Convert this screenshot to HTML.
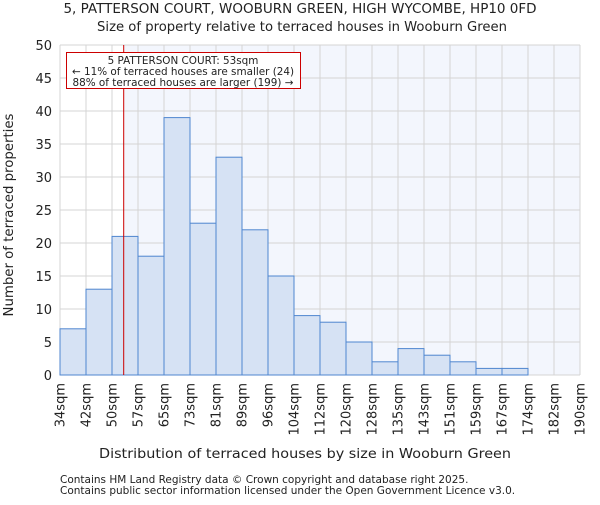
<!DOCTYPE html>
<html><head><meta charset="utf-8"><style>
body{margin:0;background:#fff}
svg text{font-family:"DejaVu Sans","Liberation Sans",sans-serif;fill:#222}
</style></head><body>
<svg id="chart" width="600" height="500" xmlns="http://www.w3.org/2000/svg">
<text x="300" y="13" text-anchor="middle" font-size="13.5">5, PATTERSON COURT, WOOBURN GREEN, HIGH WYCOMBE, HP10 0FD</text>
<text x="302" y="31" text-anchor="middle" font-size="13.2">Size of property relative to terraced houses in Wooburn Green</text>
<g id="plot"></g>
<text x="305" y="458" text-anchor="middle" font-size="13" textLength="412" lengthAdjust="spacingAndGlyphs">Distribution of terraced houses by size in Wooburn Green</text>
<text transform="translate(13,215) rotate(-90)" text-anchor="middle" font-size="13.3">Number of terraced properties</text>
<text x="60" y="483" font-size="10.5">Contains HM Land Registry data © Crown copyright and database right 2025.</text>
<text x="60" y="494" font-size="10.5">Contains public sector information licensed under the Open Government Licence v3.0.</text>
</svg>
<script>
const categories=["34sqm","42sqm","50sqm","57sqm","65sqm","73sqm","81sqm","89sqm","96sqm","104sqm","112sqm","120sqm","128sqm","135sqm","143sqm","151sqm","159sqm","167sqm","174sqm","182sqm","190sqm"];
const counts=[7,13,21,18,39,23,33,22,15,9,8,5,2,4,3,2,1,1,0,0];
const yTicks=[0,5,10,15,20,25,30,35,40,45,50];
const markerBin=2.45;
const NS="http://www.w3.org/2000/svg";
const L=60,R=580,T=45,B=375,yMax=50;
const bw=(R-L)/counts.length;
const x=i=>L+i*bw, y=v=>B-(v/yMax)*(B-T);
const g=document.getElementById('plot');
function mk(t,a){const e=document.createElementNS(NS,t);for(const k in a)e.setAttribute(k,a[k]);g.appendChild(e);return e;}
const mx=x(markerBin);
let e=mk('rect',{x:mx,y:T,width:R-mx,height:B-T,fill:'#f3f6fd'});


yTicks.forEach(v=>{const l=mk('line',{x1:L,x2:R,y1:y(v),y2:y(v),stroke:'#d4d4d4','stroke-width':1});


const t=mk('text',{x:L-8,y:y(v)+5,'text-anchor':'end','font-size':13});t.textContent=v;

});
categories.forEach((c,i)=>{const l=mk('line',{x1:x(i),x2:x(i),y1:T,y2:B,stroke:'#d4d4d4','stroke-width':1});


const t=mk('text',{transform:`translate(${x(i)+4.5},${B+8}) rotate(-90)`,'text-anchor':'end','font-size':13});t.textContent=c;

});
counts.forEach((v,i)=>{if(v<=0)return;const r=mk('rect',{x:x(i),y:y(v),width:bw,height:B-y(v),fill:'#d6e2f4',stroke:'#4f86cf','stroke-width':1});

});
e=mk('line',{x1:mx,x2:mx,y1:T,y2:B,stroke:'#c00','stroke-width':1});


e=mk('rect',{x:66.5,y:52.5,width:234,height:36,fill:'#fff',stroke:'#c00','stroke-width':1});


[["5 PATTERSON COURT: 53sqm",64],["← 11% of terraced houses are smaller (24)",75],["88% of terraced houses are larger (199) →",86]].forEach(([s,yy])=>{const t=mk('text',{x:183,y:yy,'text-anchor':'middle','font-size':10.4});t.textContent=s;

});
</script>
</body></html>
